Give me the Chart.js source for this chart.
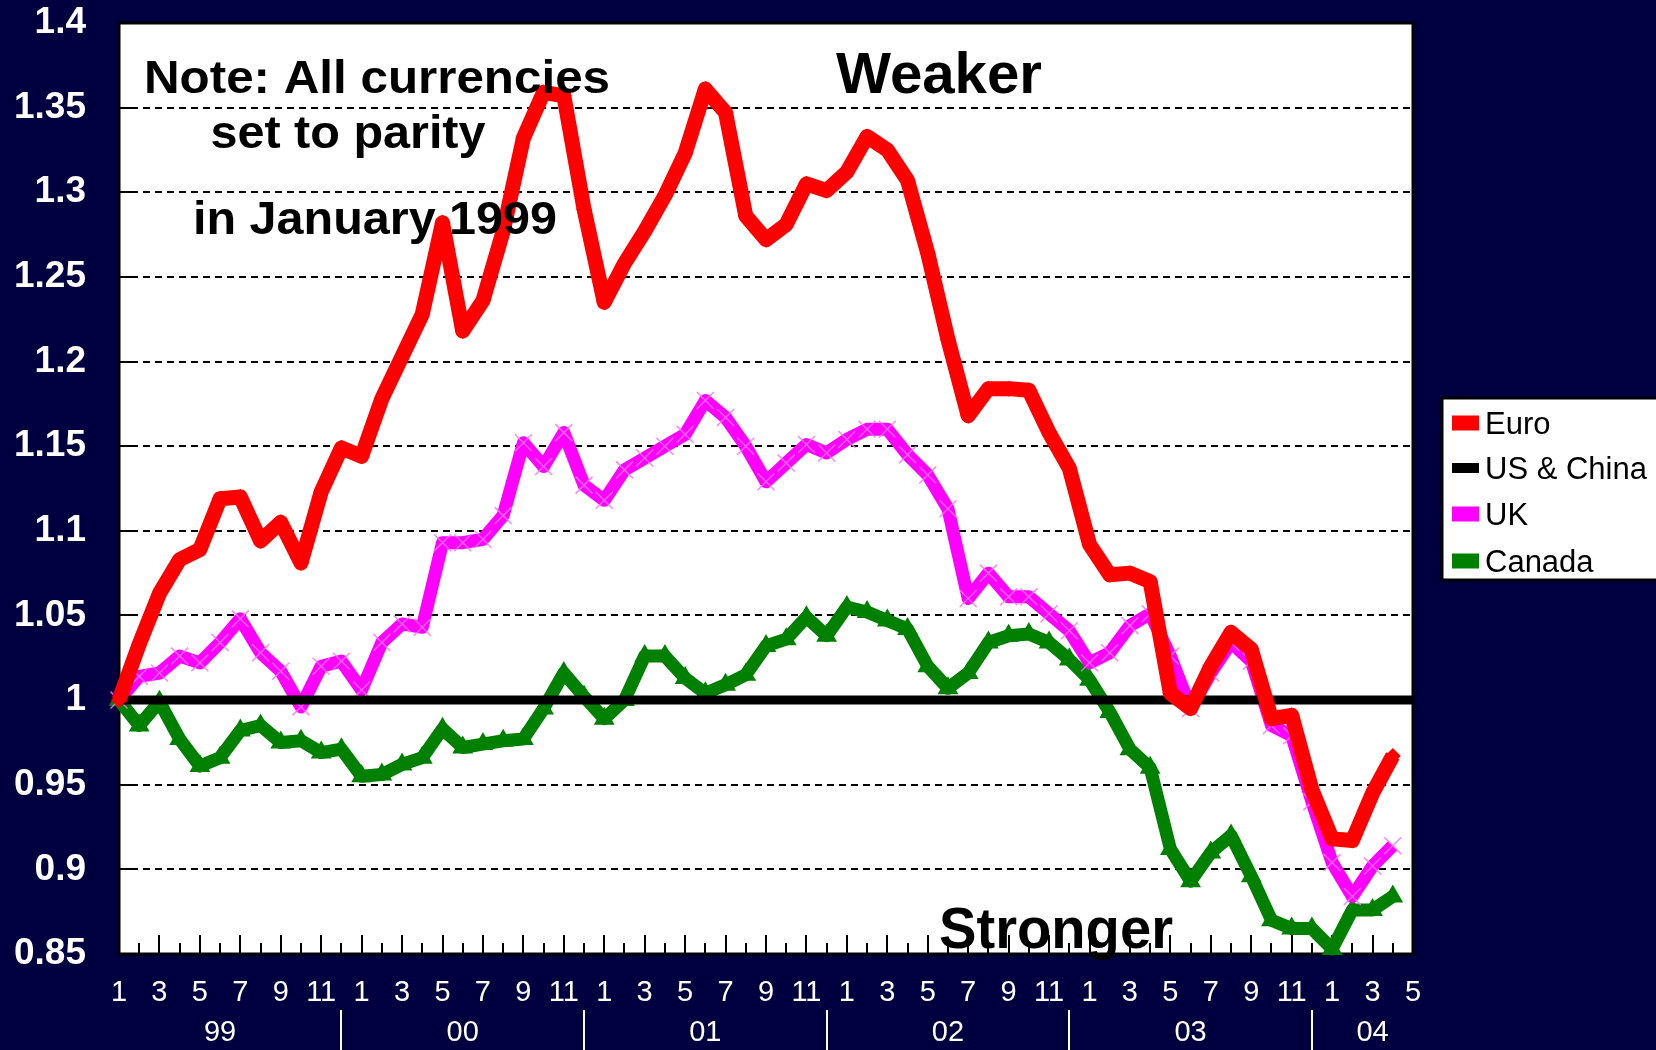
<!DOCTYPE html>
<html>
<head>
<meta charset="utf-8">
<style>
  html, body { margin: 0; padding: 0; background: #000040; }
  #wrap { width: 1656px; height: 1050px; position: relative; overflow: hidden; }
  canvas { display: block; }
</style>
<script src="https://cdn.jsdelivr.net/npm/chart.js@4.4.1/dist/chart.umd.min.js"></script>
</head>
<body>
<div id="wrap"><canvas id="c" width="1656" height="1050"></canvas></div>
<script>
// ---------------- data ----------------
const categories = [
  "99-01","99-02","99-03","99-04","99-05","99-06","99-07","99-08","99-09","99-10","99-11","99-12",
  "00-01","00-02","00-03","00-04","00-05","00-06","00-07","00-08","00-09","00-10","00-11","00-12",
  "01-01","01-02","01-03","01-04","01-05","01-06","01-07","01-08","01-09","01-10","01-11","01-12",
  "02-01","02-02","02-03","02-04","02-05","02-06","02-07","02-08","02-09","02-10","02-11","02-12",
  "03-01","03-02","03-03","03-04","03-05","03-06","03-07","03-08","03-09","03-10","03-11","03-12",
  "04-01","04-02","04-03","04-04","04-05"
];
const yearLabels = ["99","00","01","02","03","04"];
const yTickValues = [0.85, 0.9, 0.95, 1, 1.05, 1.1, 1.15, 1.2, 1.25, 1.3, 1.35, 1.4];

const euro = [
  1.000,1.033,1.063,1.083,1.089,1.119,1.120,1.094,1.105,1.081,1.123,1.149,
  1.144,1.178,1.203,1.228,1.282,1.218,1.236,1.277,1.332,1.359,1.357,1.290,
  1.235,1.258,1.277,1.298,1.323,1.361,1.347,1.286,1.272,1.281,1.305,1.301,
  1.312,1.333,1.325,1.307,1.264,1.213,1.168,1.184,1.184,1.183,1.158,1.137,
  1.092,1.074,1.075,1.070,1.004,0.995,1.020,1.040,1.030,0.989,0.991,0.947,
  0.918,0.917,0.945,0.967
];
const usChina = [
  1,1,1,1,1,1,1,1,1,1,1,1,
  1,1,1,1,1,1,1,1,1,1,1,1,
  1,1,1,1,1,1,1,1,1,1,1,1,
  1,1,1,1,1,1,1,1,1,1,1,1,
  1,1,1,1,1,1,1,1,1,1,1,1,
  1,1,1,1,1
];
const uk = [
  1.000,1.014,1.016,1.026,1.022,1.034,1.048,1.028,1.017,0.996,1.020,1.023,
  1.006,1.034,1.045,1.043,1.093,1.093,1.095,1.109,1.152,1.138,1.158,1.127,
  1.118,1.136,1.143,1.150,1.157,1.177,1.167,1.150,1.129,1.140,1.151,1.146,
  1.154,1.160,1.160,1.145,1.133,1.113,1.060,1.075,1.061,1.061,1.051,1.041,
  1.022,1.028,1.044,1.051,1.026,0.995,1.016,1.034,1.023,0.985,0.979,0.940,
  0.904,0.884,0.902,0.914
];
const canada = [
  1.000,0.985,0.999,0.977,0.961,0.966,0.982,0.985,0.975,0.976,0.969,0.971,
  0.955,0.956,0.962,0.966,0.983,0.972,0.974,0.976,0.977,0.995,1.016,1.002,
  0.989,1.000,1.026,1.026,1.013,1.004,1.009,1.015,1.032,1.036,1.049,1.038,
  1.055,1.052,1.047,1.042,1.020,1.007,1.016,1.034,1.038,1.039,1.034,1.024,
  1.012,0.993,0.971,0.960,0.912,0.893,0.910,0.920,0.896,0.870,0.865,0.865,
  0.853,0.876,0.876,0.884
];
const seriesNames = ["Euro", "US & China", "UK", "Canada"];
const noteLines = ["Note: All currencies", "set to parity", "in January 1999"];
const weakerText = "Weaker";
const strongerText = "Stronger";

// ---------------- helpers ----------------
const FAMILY = "'Liberation Sans', Arial, Helvetica, sans-serif";
const monthOf = (c) => parseInt(c.split("-")[1], 10);
const yearOf = (c) => c.split("-")[0];

function fitText(ctx, txt, cx, by, font, w, color) {
  ctx.save();
  ctx.font = font;
  ctx.fillStyle = color;
  const m = ctx.measureText(txt).width;
  ctx.translate(cx, by);
  ctx.scale(w / m, 1);
  ctx.textAlign = "center";
  ctx.textBaseline = "alphabetic";
  ctx.fillText(txt, 0, 0);
  ctx.restore();
}
function seg(ctx, x1, y1, x2, y2) {
  ctx.beginPath(); ctx.moveTo(x1, y1); ctx.lineTo(x2, y2); ctx.stroke();
}

const deco = {
  id: "deco",
  beforeDraw(c) {
    const { ctx, chartArea: a } = c;
    ctx.save();
    ctx.fillStyle = "#000040";
    ctx.fillRect(0, 0, c.width, c.height);
    ctx.fillStyle = "#ffffff";
    ctx.fillRect(a.left, a.top, a.right - a.left, a.bottom - a.top);
    ctx.restore();
  },
  beforeDatasetsDraw(c) {
    const { ctx, chartArea: a, scales: { x, y } } = c;
    ctx.save();
    ctx.strokeStyle = "#000";
    ctx.lineWidth = 2;
    yTickValues.forEach(v => {
      const py = Math.round(y.getPixelForValue(v));
      seg(ctx, a.left, py, a.left + 18, py);
    });
    categories.forEach((cat, i) => {
      const px = Math.round(x.getPixelForValue(i));
      const len = monthOf(cat) % 2 === 1 ? 19 : 11;
      seg(ctx, px, a.bottom, px, a.bottom - len);
    });
    ctx.lineWidth = 3;
    ctx.strokeRect(a.left, a.top, a.right - a.left, a.bottom - a.top);
    ctx.restore();
  },
  afterDatasetsDraw(c) {
    const { ctx } = c;
    const bold46 = "bold 46px " + FAMILY;
    const bold58 = "bold 58px " + FAMILY;
    fitText(ctx, noteLines[0], 377, 93, bold46, 466, "#000");
    fitText(ctx, noteLines[1], 348, 148, bold46, 275, "#000");
    fitText(ctx, noteLines[2], 375, 234, bold46, 364, "#000");
    fitText(ctx, weakerText, 939, 93, bold58, 206, "#000");
    fitText(ctx, strongerText, 1056, 948, bold58, 234, "#000");
  },
  afterDraw(c) {
    const { ctx, scales: { x } } = c;
    ctx.save();
    ctx.fillStyle = "#fff";
    ctx.strokeStyle = "#fff";
    ctx.lineWidth = 2;
    ctx.font = "29px " + FAMILY;
    ctx.textAlign = "center";
    ctx.textBaseline = "alphabetic";
    const groups = yearLabels.map(yl => {
      const idx = [];
      categories.forEach((cat, i) => { if (yearOf(cat) === yl && monthOf(cat) % 2 === 1) idx.push(i); });
      return { yl, first: idx[0], last: idx[idx.length - 1] };
    });
    groups.forEach((g, k) => {
      const cx = (x.getPixelForValue(g.first) + x.getPixelForValue(g.last)) / 2;
      ctx.fillText(g.yl, cx, 1041);
      if (k < groups.length - 1) {
        const sx = Math.round((x.getPixelForValue(g.last) + x.getPixelForValue(groups[k + 1].first)) / 2);
        seg(ctx, sx, 1010, sx, 1050);
      }
    });
    // legend
    const lx = 1442, ly = 398, lw = 230, lh = 182;
    ctx.fillStyle = "#fff";
    ctx.fillRect(lx, ly, lw, lh);
    ctx.strokeStyle = "#000";
    ctx.lineWidth = 3;
    ctx.strokeRect(lx, ly, lw, lh);
    const baselines = [434, 479, 525, 572];
    ctx.font = "31px " + FAMILY;
    ctx.textAlign = "left";
    c.data.datasets.forEach((ds, i) => {
      const h = ds.borderWidth >= 11 ? 15 : 10;
      const cy = baselines[i] - 11;
      ctx.fillStyle = ds.borderColor;
      ctx.fillRect(1452, cy - h / 2, 27, h);
      ctx.fillStyle = "#000";
      ctx.fillText(seriesNames[i], 1485, baselines[i]);
    });
    ctx.restore();
  }
};

const chart = new Chart(document.getElementById("c"), {
  type: "line",
  data: {
    labels: categories,
    datasets: [
      { label: seriesNames[0], data: euro, borderColor: "#FF0000", backgroundColor: "#FF0000",
        borderWidth: 15, tension: 0, borderJoinStyle: "round", borderCapStyle: "butt",
        pointStyle: "rectRot", pointRadius: 8, pointBorderWidth: 0, pointBackgroundColor: "#FF0000", clip: false },
      { label: seriesNames[1], data: usChina, borderColor: "#000000", backgroundColor: "#000000",
        borderWidth: 9, tension: 0, pointRadius: 0, borderCapStyle: "butt", clip: false },
      { label: seriesNames[2], data: uk, borderColor: "#FF00FF", backgroundColor: "#FF00FF",
        borderWidth: 13, tension: 0, borderJoinStyle: "round", borderCapStyle: "butt",
        pointStyle: "crossRot", pointRadius: 12, pointBorderWidth: 1.5, pointBorderColor: "rgba(255,110,255,0.85)", clip: false },
      { label: seriesNames[3], data: canada, borderColor: "#008000", backgroundColor: "#008000",
        borderWidth: 13, tension: 0, borderJoinStyle: "round", borderCapStyle: "butt",
        pointStyle: "triangle", pointRadius: 12, pointBorderWidth: 0, pointBackgroundColor: "#008000", clip: false }
    ]
  },
  options: {
    responsive: false,
    animation: false,
    devicePixelRatio: 1,
    layout: { padding: { top: 23, right: 243, bottom: 0, left: 0 } },
    plugins: { legend: { display: false }, tooltip: { enabled: false } },
    scales: {
      x: {
        type: "category",
        offset: false,
        grid: { display: false, drawTicks: false },
        border: { display: false },
        ticks: {
          autoSkip: false, maxRotation: 0, minRotation: 0,
          color: "#ffffff", font: { family: FAMILY, size: 29 }, padding: 22,
          callback: (v, i) => (monthOf(categories[i]) % 2 === 1 ? String(monthOf(categories[i])) : "")
        },
        afterFit: (s) => { s.height = 96; s.paddingLeft = 0; s.paddingRight = 0; }
      },
      y: {
        min: 0.85, max: 1.4,
        afterBuildTicks: (s) => { s.ticks = yTickValues.map(v => ({ value: v })); },
        grid: { color: "#000000", lineWidth: 2, drawTicks: false },
        border: { display: false, dash: [7, 5] },
        ticks: {
          color: "#ffffff", font: { family: FAMILY, size: 37, weight: "bold" }, padding: 33,
          callback: (v) => String(+Number(v).toFixed(2))
        },
        afterFit: (s) => { s.width = 119; s.paddingTop = 0; s.paddingBottom = 0; }
      }
    }
  },
  plugins: [deco]
});
</script>
</body>
</html>
